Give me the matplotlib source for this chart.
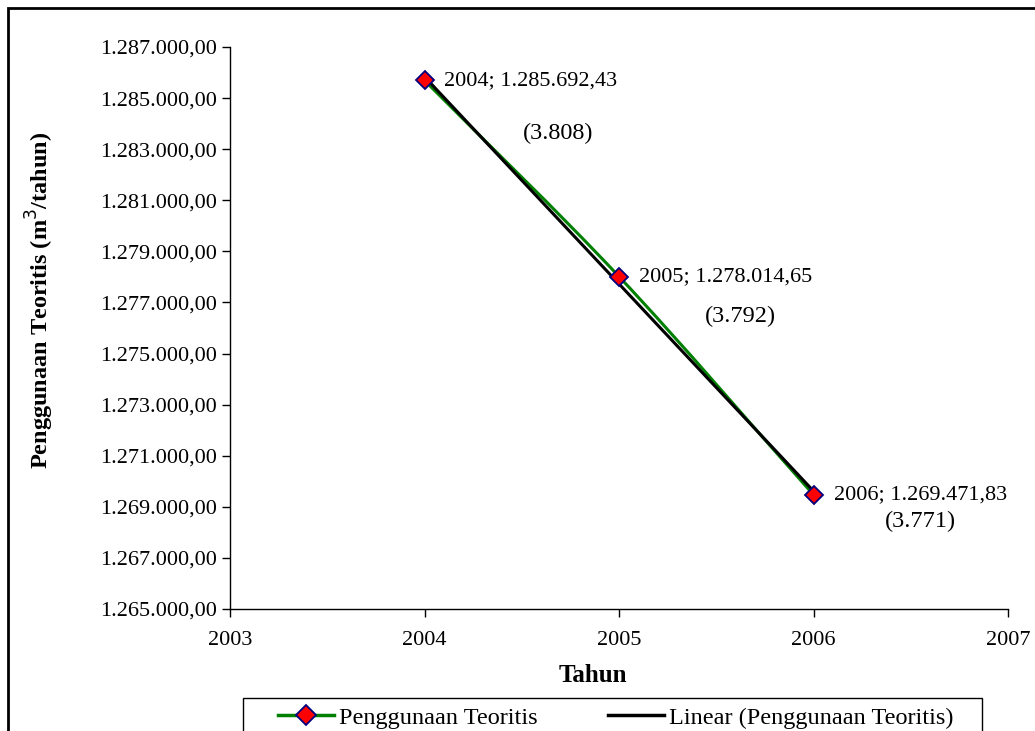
import numpy as np
import matplotlib
matplotlib.use("Agg")
import matplotlib.pyplot as plt
from matplotlib.path import Path
from matplotlib.patches import PathPatch, Rectangle
from matplotlib.lines import Line2D

plt.rcParams['font.family'] = ['Liberation Serif', 'DejaVu Serif']

# data
tahun = [2004, 2005, 2006]
penggunaan = [1285692.43, 1278014.65, 1269471.83]
catatan = ["(3.808)", "(3.792)", "(3.771)"]
catatan_x = [2004.686, 2005.622, 2006.548]
catatan_y = [1283633, 1276470, 1268445]
xticks = [2003, 2004, 2005, 2006, 2007]
yticks = list(range(1265000, 1287001, 2000))


def fmt_id(v, dec=2):
    s = f"{v:,.{dec}f}"
    return s.replace(",", "X").replace(".", ",").replace("X", ".")


fig = plt.figure(figsize=(10.35, 7.31), dpi=100)
ax = fig.add_axes([230/1035, 1-609/731, 778/1035, 562/731])

# smoothed line (Excel style bezier through the points)
P = np.column_stack([tahun, penggunaan])
verts = [P[0]]
codes = [Path.MOVETO]
n = len(P)
for i in range(n - 1):
    p0 = P[i]; p1 = P[i + 1]
    t0 = (P[i + 1] - P[i - 1]) / 6 if i > 0 else (p1 - p0) / 3
    t1 = (P[i + 2] - P[i]) / 6 if i + 2 < n else (p1 - p0) / 3
    verts += [p0 + t0, p1 - t1, p1]
    codes += [Path.CURVE4] * 3
ax.add_patch(PathPatch(Path(verts, codes), facecolor='none', edgecolor='#008000', lw=2.2, zorder=2))

# linear trend
k, b = np.polyfit(tahun, penggunaan, 1)
tx = np.array([tahun[0], tahun[-1]])
ax.plot(tx, k * tx + b, color='black', lw=2.2, zorder=3)

ax.plot(tahun, penggunaan, linestyle='none', marker='D', markersize=9,
        markerfacecolor='#ff0000', markeredgecolor='#000080', markeredgewidth=1.3, zorder=4)

for x, y in zip(tahun, penggunaan):
    ax.annotate(f"{x}; {fmt_id(y)}", (x, y), xytext=(20, 0), textcoords='offset pixels',
                va='center', ha='left', fontsize=16)
for t, x, y in zip(catatan, catatan_x, catatan_y):
    ax.text(x, y, t, fontsize=17.5, ha='center', va='center')

ax.set_xlim(2003, 2007)
ax.set_ylim(1265000, 1287000)
ax.set_xticks(xticks)
ax.set_yticks(yticks)
ax.set_yticklabels([fmt_id(v) for v in yticks])
ax.tick_params(axis='both', labelsize=16, direction='out', length=6, width=1, color='black')
ax.tick_params(axis='x', pad=10)
ax.spines['top'].set_visible(False)
ax.spines['right'].set_visible(False)
for s in ['left', 'bottom']:
    ax.spines[s].set_linewidth(1)

fig.text(593/1035, 1-676/731, "Tahun", fontsize=18, fontweight='bold', ha='center', va='center')
fig.text(40/1035, 1-300/731, "Penggunaan Teoritis (m$^3$/tahun)", rotation=90, fontsize=17.5,
         fontweight='bold', ha='center', va='center')

handles = [Line2D([], [], color='#008000', lw=2.5, marker='D', markersize=10,
                  markerfacecolor='#ff0000', markeredgecolor='#000080', markeredgewidth=1.3),
           Line2D([], [], color='black', lw=2.5)]
leg = fig.legend(handles, ["Penggunaan Teoritis", "Linear (Penggunaan Teoritis)"],
                 loc='upper center', bbox_to_anchor=(616/1035, 1-698/731),
                 ncol=2, fontsize=17.5, frameon=False,
                 borderaxespad=0, borderpad=0.35, handlelength=2.3, handletextpad=0.2,
                 columnspacing=2.9)
# legend frame (wider than the entries, as in the original)
fig.patches.append(Rectangle((243/1035, -0.05), 739/1035, 0.05 + 1 - 698/731,
                             transform=fig.transFigure, fill=False, edgecolor='black', lw=1))

# chart area border
fig.patches.append(Rectangle((8/1035, -0.1), 1.2, 1.1 - 8/731, transform=fig.transFigure,
                             fill=False, edgecolor='black', lw=2, zorder=0))

fig.savefig("out.png", dpi=100)
